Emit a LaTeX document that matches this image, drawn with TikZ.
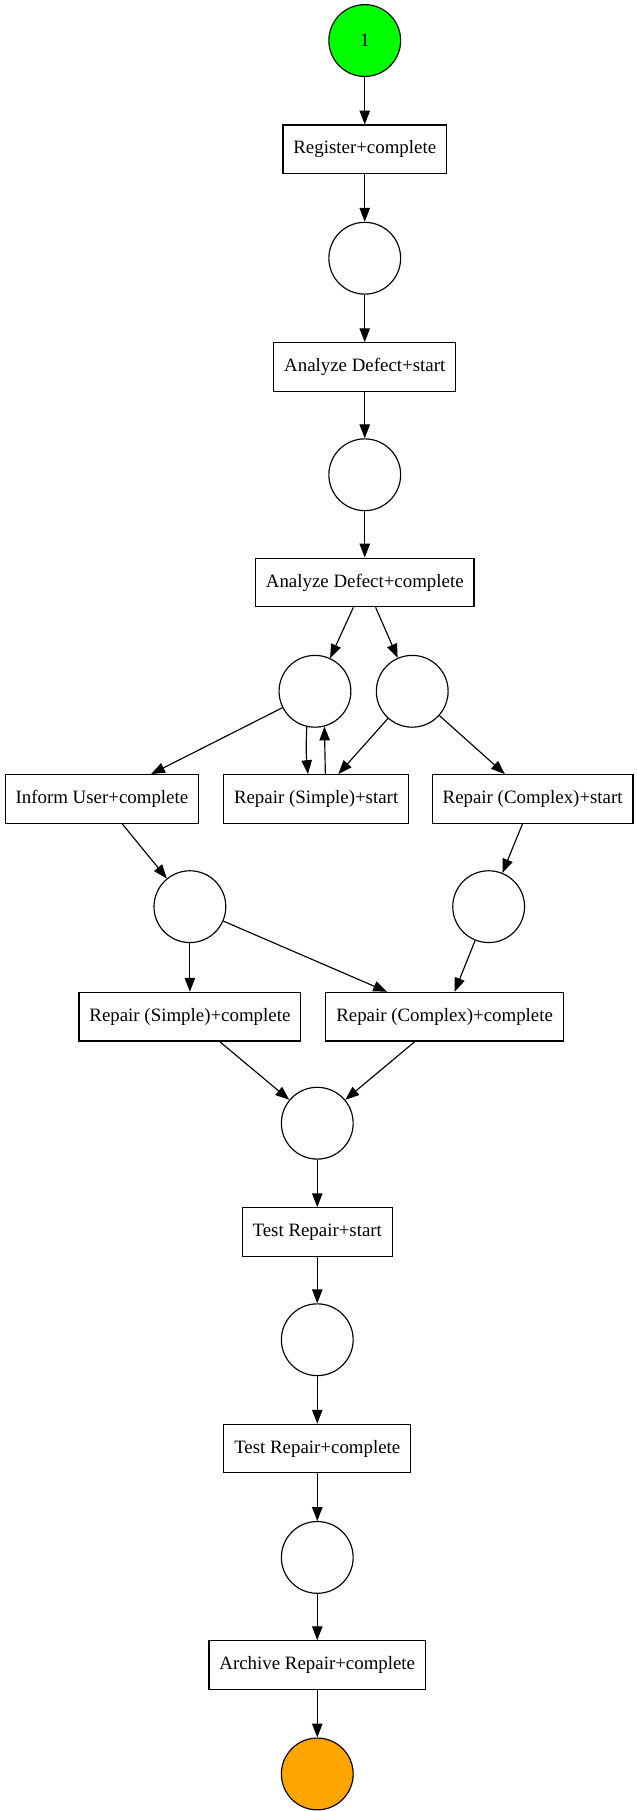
\documentclass[tikz,border=0pt]{standalone}
\usepackage{fontspec}
\setmainfont{Liberation Serif}
\usetikzlibrary{arrows.meta}
\tikzset{>={Triangle[length=12pt,width=9pt]}}
\definecolor{startgreen}{HTML}{00FF00}
\definecolor{endorange}{HTML}{FFA500}
\tikzset{
  place/.style={draw, circle, line width=1pt, minimum size=62pt, inner sep=0pt},
  trans/.style={draw, rectangle, line width=1pt, minimum height=42pt, inner xsep=9pt},
  arc/.style={->, line width=1pt}
}

\begin{document}
\begin{tikzpicture}[x=1pt, y=-1pt, font=\fontsize{16.3}{19}\selectfont]
            \useasboundingbox (0,0) rectangle (550,1564);
            \node[place, fill=startgreen] (p1) at (315, 35) {1};
            \node[trans] (register) at (315, 129) {Register+complete};
            \node[place] (p2) at (315, 223) {};
            \node[trans] (ads) at (315, 317) {Analyze Defect+start};
            \node[place] (p3) at (315, 410) {};
            \node[trans] (adc) at (315, 503) {Analyze Defect+complete};
            \node[place] (p4) at (272, 597) {};
            \node[place] (p5) at (356, 597) {};
            \node[trans] (iuc) at (88, 690) {Inform User+complete};
            \node[trans] (rss) at (273, 690) {Repair (Simple)+start};
            \node[trans] (rcs) at (460, 690) {Repair (Complex)+start};
            \node[place] (p6) at (164, 783) {};
            \node[place] (p7) at (422, 783) {};
            \node[trans] (rsc) at (164, 878) {Repair (Simple)+complete};
            \node[trans] (rcc) at (384, 878) {Repair (Complex)+complete};
            \node[place] (p8) at (274, 970) {};
            \node[trans] (trs) at (274, 1064) {Test Repair+start};
            \node[place] (p9) at (274, 1157) {};
            \node[trans] (trc) at (274, 1251) {Test Repair+complete};
            \node[place] (p10) at (274, 1345) {};
            \node[trans] (arc) at (274, 1438) {Archive Repair+complete};
            \node[place, fill=endorange] (p11) at (274, 1532) {};
            \draw[arc] (p1) -- (register);
            \draw[arc] (register) -- (p2);
            \draw[arc] (p2) -- (ads);
            \draw[arc] (ads) -- (p3);
            \draw[arc] (p3) -- (adc);
            \draw[arc] (adc) -- (p4);
            \draw[arc] (adc) -- (p5);
            \draw[arc] (p4) -- (iuc);
            \draw[arc] (p4.-103) to[bend right=4] ([xshift=-7pt]rss.north);
            \draw[arc] ([xshift=8pt]rss.north) -- (p4.-75);
            \draw[arc] (p5) -- (rss);
            \draw[arc] (p5) -- (rcs);
            \draw[arc] (iuc) -- (p6);
            \draw[arc] (rcs) -- (p7);
            \draw[arc] (p6) -- (rsc);
            \draw[arc] (p6) -- (rcc);
            \draw[arc] (p7) -- (rcc);
            \draw[arc] (rsc) -- (p8);
            \draw[arc] (rcc) -- (p8);
            \draw[arc] (p8) -- (trs);
            \draw[arc] (trs) -- (p9);
            \draw[arc] (p9) -- (trc);
            \draw[arc] (trc) -- (p10);
            \draw[arc] (p10) -- (arc);
            \draw[arc] (arc) -- (p11);
        \end{tikzpicture}
\end{document}
